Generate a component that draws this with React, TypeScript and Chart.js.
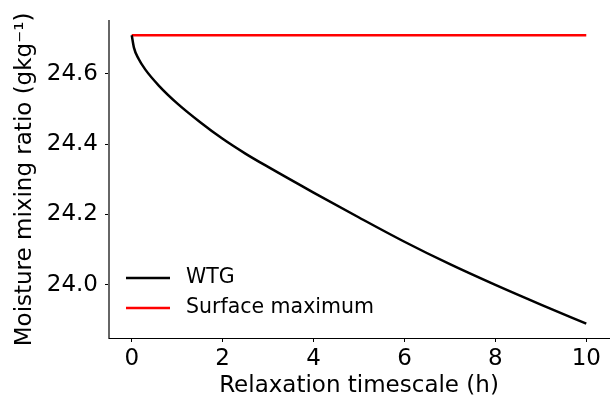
import React, { useEffect, useRef } from "react";
import { Chart, registerables } from "chart.js";

Chart.register(...registerables);

// Relaxation timescale (h) sampled along the WTG curve
const wtgHours = [0, 0.05, 0.15, 0.3, 0.6, 1.0, 1.5, 2, 2.5, 3, 4, 5, 6, 7, 8, 9, 10];
// Moisture mixing ratio (g/kg) for WTG
const wtgValues = [24.71, 24.674, 24.643, 24.612, 24.566, 24.516, 24.463, 24.415, 24.373, 24.335, 24.262, 24.191, 24.122, 24.058, 23.999, 23.943, 23.889];
// Surface maximum (constant)
const surfaceHours = [0, 10];
const surfaceValues = [24.71, 24.71];

const xTickValues = [0, 2, 4, 6, 8, 10];
const yTickValues = [24.0, 24.2, 24.4, 24.6];

const seriesLabels = ["WTG", "Surface maximum"];
const seriesColors = ["#000000", "#ff0000"];

const FONT = "'DejaVu Sans', 'Liberation Sans', sans-serif";

const insideLegend = {
  id: "insideLegend",
  afterDraw(chart: any) {
    const { ctx, chartArea } = chart;
    ctx.save();
    chart.data.datasets.forEach((ds: any, i: number) => {
      const y = chartArea.bottom - 60 + i * 30;
      const x0 = chartArea.left + 17;
      ctx.strokeStyle = ds.borderColor;
      ctx.lineWidth = 2.5;
      ctx.beginPath();
      ctx.moveTo(x0, y);
      ctx.lineTo(x0 + 44, y);
      ctx.stroke();
      ctx.fillStyle = "#000";
      ctx.font = `20.5px ${FONT}`;
      ctx.textBaseline = "middle";
      ctx.textAlign = "left";
      ctx.fillText(ds.label, x0 + 60, y);
    });
    ctx.restore();
  },
};

export default function App() {
  const ref = useRef<HTMLCanvasElement>(null);
  useEffect(() => {
    if (!ref.current) return;
    const chart = new Chart(ref.current, {
      type: "line",
      data: {
        datasets: [
          {
            label: seriesLabels[0],
            data: wtgHours.map((x, i) => ({ x, y: wtgValues[i] })),
            borderColor: seriesColors[0],
            borderWidth: 2.5,
            pointRadius: 0,
            cubicInterpolationMode: "monotone",
            fill: false,
          },
          {
            label: seriesLabels[1],
            data: surfaceHours.map((x, i) => ({ x, y: surfaceValues[i] })),
            borderColor: seriesColors[1],
            borderWidth: 2.5,
            pointRadius: 0,
            fill: false,
          },
        ],
      },
      options: {
        responsive: false,
        animation: false,
        layout: { padding: { left: 0, top: 19, right: 7, bottom: 0 } },
        plugins: { legend: { display: false }, tooltip: { enabled: false } },
        scales: {
          x: {
            type: "linear",
            min: -0.5,
            max: 10.5,
            afterFit: (s: any) => { s.height = 65; },
            afterBuildTicks: (s: any) => { s.ticks = xTickValues.map((v) => ({ value: v })); },
            grid: { display: true, drawOnChartArea: false, drawTicks: true, tickLength: 4, tickColor: "#000", tickWidth: 1 },
            border: { display: true, color: "#000", width: 1 },
            ticks: { color: "#000", font: { family: FONT, size: 23 }, padding: 3, maxRotation: 0, callback: (v: any) => String(v) },
            title: { display: true, text: "Relaxation timescale (h)", color: "#000", font: { family: FONT, size: 23 }, padding: { top: 0, bottom: 3 } },
          },
          y: {
            type: "linear",
            min: 23.848,
            max: 24.751,
            afterFit: (s: any) => { s.width = 109; },
            afterBuildTicks: (s: any) => { s.ticks = yTickValues.map((v) => ({ value: v })); },
            grid: { display: true, drawOnChartArea: false, drawTicks: true, tickLength: 4, tickColor: "#000", tickWidth: 1 },
            border: { display: true, color: "rgba(0,0,0,0.6)", width: 2 },
            ticks: { color: "#000", font: { family: FONT, size: 23 }, padding: 7, callback: (v: any) => Number(v).toFixed(1) },
            title: { display: true, text: "Moisture mixing ratio (gkg⁻¹)", color: "#000", font: { family: FONT, size: 23 }, padding: { top: 11, bottom: 0 } },
          },
        },
      },
      plugins: [insideLegend],
    } as any);
    return () => chart.destroy();
  }, []);
  return (
    <div style={{ position: "absolute", left: 0, top: 0, width: 616, height: 403 }}>
      <canvas ref={ref} width={616} height={403} />
    </div>
  );
}
